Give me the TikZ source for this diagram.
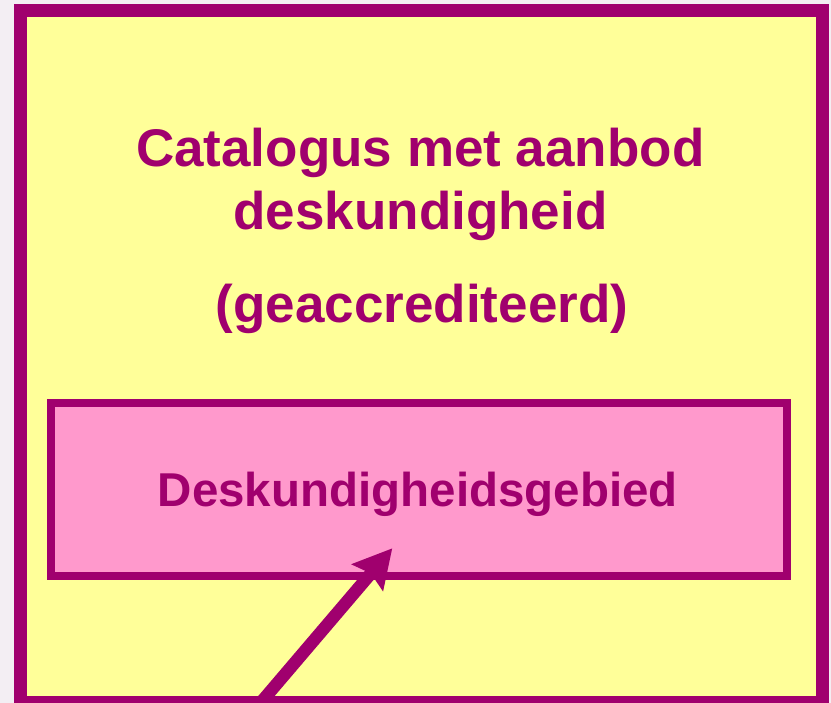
\documentclass[tikz,border=0pt]{standalone}
\usepackage{fontspec}
\setmainfont{Liberation Sans}
\usetikzlibrary{arrows.meta}
\definecolor{mag}{RGB}{160,0,110}
\definecolor{yel}{RGB}{255,255,153}
\definecolor{pnk}{RGB}{255,153,204}
\definecolor{lav}{RGB}{243,238,243}
\tikzset{
  bigtext/.style={text=mag,font=\fontsize{53}{63}\selectfont\bfseries,inner sep=0pt,anchor=base},
  midtext/.style={text=mag,font=\fontsize{47.5}{56}\selectfont\bfseries,inner sep=0pt,anchor=base},
  outerbox/.style={draw=mag,fill=yel,line width=13pt},
  innerbox/.style={draw=mag,fill=pnk,line width=8pt},
  pointer/.style={draw=mag,line width=12.5pt,-{Stealth[length=38pt,width=40pt,inset=5pt]}}
}
\begin{document}
\begin{tikzpicture}[x=1pt,y=-1pt]
\useasboundingbox (0,0) rectangle (831,703);
\clip (0,0) rectangle (831,703);
\fill[lav] (0,0) rectangle (831,703);
\draw[outerbox] (20.5,10.2) rectangle (822,702.8);
\draw[innerbox] (51,403.3) rectangle (787,576.3);
\node[bigtext] (t1) at (420.3,166.7) {Catalogus met aanbod};
\node[bigtext] (t2) at (420.5,230) {deskundigheid};
\node[bigtext] (t3) at (422,323) {(geaccrediteerd)};
\node[midtext] (lab) at (417.8,506.7) {Deskundigheidsgebied};
\coordinate (s) at (246,720);
\coordinate (e) at (392.3,548.3);
\draw[pointer] (s) -- (e);
\end{tikzpicture}
\end{document}
